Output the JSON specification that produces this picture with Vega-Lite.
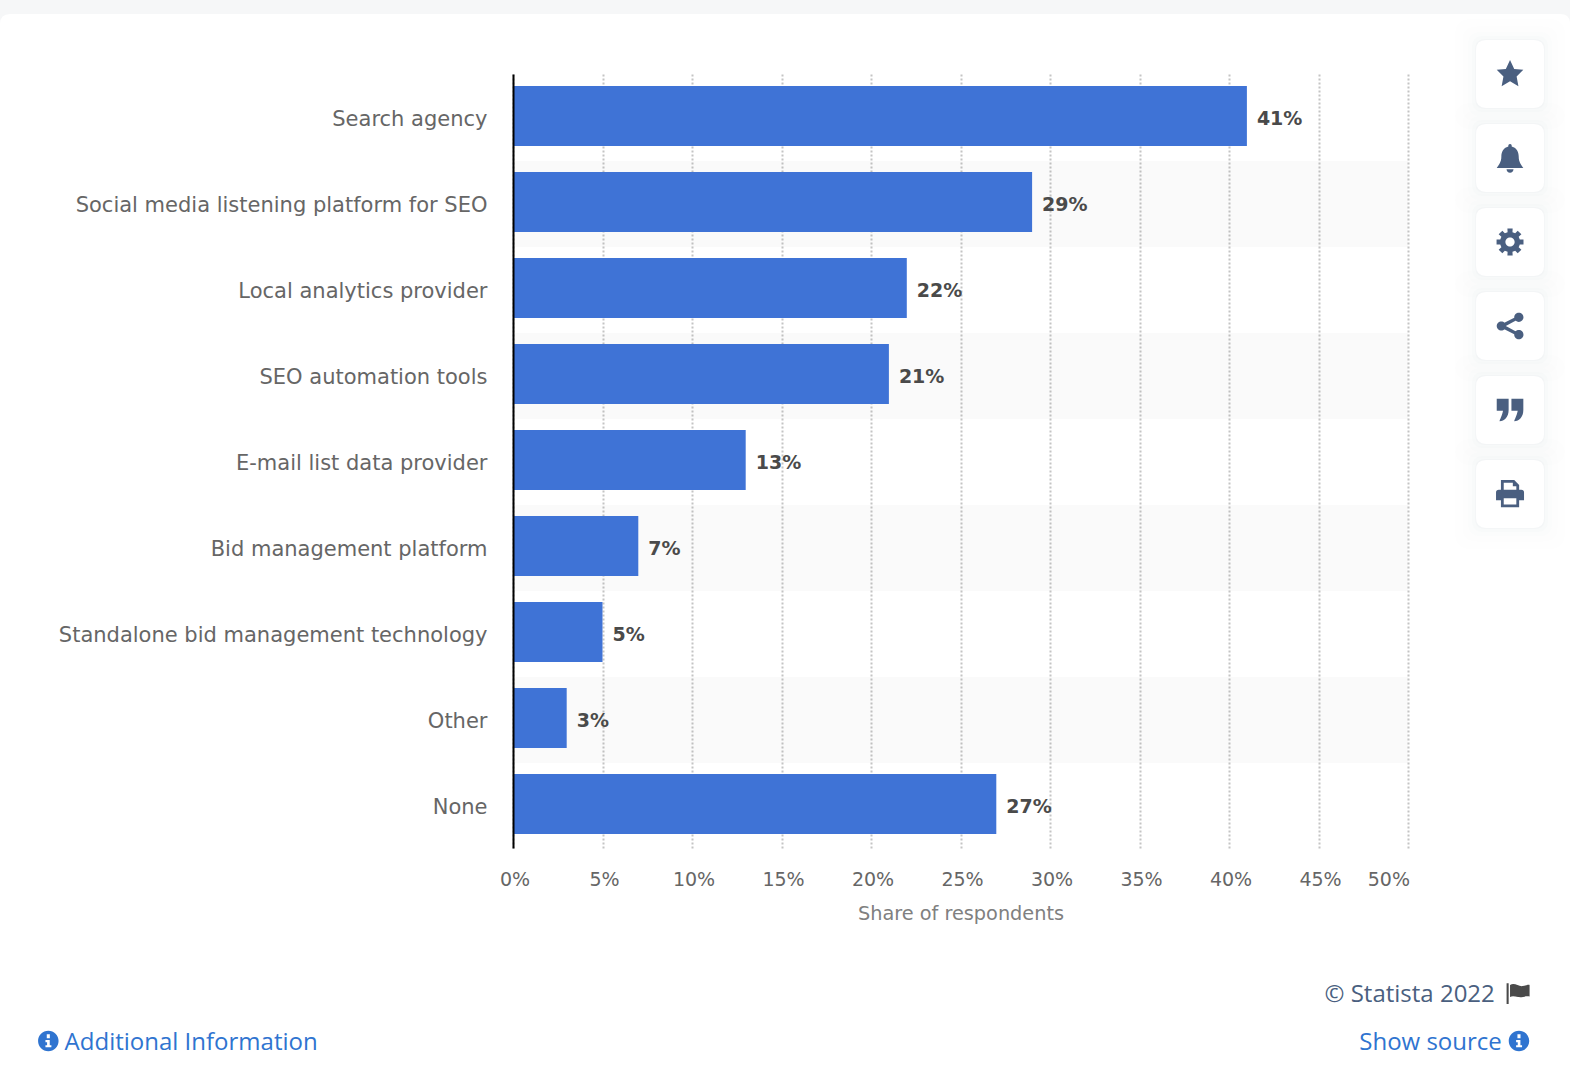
{"$schema":"https://vega.github.io/schema/vega-lite/v6.json","width":895,"height":774,"autosize":{"type":"none"},"padding":{"left":513,"top":74,"right":162,"bottom":236},"background":"#ffffff","config":{"view":{"stroke":null}},"datasets":{"survey":[{"category":"Search agency","share":41,"label":"41%"},{"category":"Social media listening platform for SEO","share":29,"label":"29%"},{"category":"Local analytics provider","share":22,"label":"22%"},{"category":"SEO automation tools","share":21,"label":"21%"},{"category":"E-mail list data provider","share":13,"label":"13%"},{"category":"Bid management platform","share":7,"label":"7%"},{"category":"Standalone bid management technology","share":5,"label":"5%"},{"category":"Other","share":3,"label":"3%"},{"category":"None","share":27,"label":"27%"}],"tools":[{"tool":"star"},{"tool":"bell"},{"tool":"settings"},{"tool":"share"},{"tool":"cite"},{"tool":"print"}]},"resolve":{"scale":{"y":"independent","shape":"independent"}},"layer":[{"data":{"name":"survey"},"encoding":{"y":{"field":"category","type":"nominal","scale":{"domain":["Search agency","Social media listening platform for SEO","Local analytics provider","SEO automation tools","E-mail list data provider","Bid management platform","Standalone bid management technology","Other","None"],"paddingInner":0,"paddingOuter":0},"axis":{"title":null,"domainColor":"#000000","domainWidth":2,"ticks":false,"labelPadding":26,"labelOffset":3,"labelFont":"DejaVu Sans","labelFontSize":21,"labelColor":"#666666","labelLimit":600,"zindex":1}}},"layer":[{"transform":[{"filter":{"field":"category","oneOf":["Social media listening platform for SEO","SEO automation tools","Bid management platform","Other"]}}],"mark":{"type":"bar","height":86,"yOffset":1,"fill":"#000000","opacity":0.02},"encoding":{"x":{"datum":0,"type":"quantitative","scale":{"domain":[0,50],"nice":false},"axis":{"title":"Share of respondents"}},"x2":{"datum":50}}},{"mark":{"type":"bar","height":60,"yOffset":-1,"fill":"#3f73d6"},"encoding":{"x":{"field":"share","type":"quantitative","scale":{"domain":[0,50],"nice":false},"axis":{"title":"Share of respondents","titleFont":"DejaVu Sans","titleFontSize":19.3,"titleFontWeight":"normal","titleColor":"#808080","titleBaseline":"middle","titleY":65,"values":[0,5,10,15,20,25,30,35,40,45,50],"labelExpr":"datum.value + '%'","labelFont":"DejaVu Sans","labelFontSize":19,"labelColor":"#666666","labelPadding":22,"labelOffset":1.5,"labelAlign":{"condition":{"test":"datum.value === 50","value":"right"},"value":"center"},"domain":false,"ticks":false,"grid":true,"gridColor":"#c4c4c4","gridWidth":2,"gridDash":[2,2],"labelFlush":false,"labelOverlap":false}}}},{"mark":{"type":"text","align":"left","baseline":"middle","dx":10,"dy":2,"font":"DejaVu Sans","fontSize":19,"fontWeight":"bold","fill":"#4a4a4a"},"encoding":{"x":{"field":"share","type":"quantitative","scale":{"domain":[0,50],"nice":false},"axis":{"title":"Share of respondents"}},"text":{"field":"label"}}}]},{"data":{"values":[{"part":"page edge"}]},"mark":{"type":"point","filled":true,"opacity":1,"fill":"#f6f7f8","size":2464900,"shape":"M-1,0 H1 V0.0306 Q1,0.01783 0.98726,0.01783 H-0.98726 Q-1,0.01783 -1,0.0306 Z"},"encoding":{"x":{"datum":15.2,"type":"quantitative","scale":{"domain":[0,50],"nice":false},"axis":{"title":"Share of respondents"}},"y":{"field":"part","type":"nominal","scale":{"type":"point","range":[-74,-74],"padding":0},"axis":null}}},{"data":{"name":"tools"},"encoding":{"x":{"datum":55.7,"type":"quantitative","scale":{"domain":[0,50],"nice":false},"axis":{"title":"Share of respondents"}},"y":{"field":"tool","type":"nominal","scale":{"type":"point","domain":["star","bell","settings","share","cite","print"],"range":[0,420],"padding":0},"axis":null}},"layer":[{"mark":{"type":"point","filled":true,"fill":"#7a8aa8","opacity":0.006,"size":12100,"shape":"M-0.7,-1 H0.7 Q1,-1 1,-0.7 V0.7 Q1,1 0.7,1 H-0.7 Q-1,1 -1,0.7 V-0.7 Q-1,-1 -0.7,-1 Z"}},{"mark":{"type":"point","filled":true,"fill":"#7a8aa8","opacity":0.008,"size":9025,"shape":"M-0.7,-1 H0.7 Q1,-1 1,-0.7 V0.7 Q1,1 0.7,1 H-0.7 Q-1,1 -1,0.7 V-0.7 Q-1,-1 -0.7,-1 Z"}},{"mark":{"type":"point","filled":true,"fill":"#7a8aa8","opacity":0.012,"size":7056,"shape":"M-0.7,-1 H0.7 Q1,-1 1,-0.7 V0.7 Q1,1 0.7,1 H-0.7 Q-1,1 -1,0.7 V-0.7 Q-1,-1 -0.7,-1 Z"}},{"mark":{"type":"point","filled":true,"fill":"#7a8aa8","opacity":0.02,"size":5776,"shape":"M-0.7,-1 H0.7 Q1,-1 1,-0.7 V0.7 Q1,1 0.7,1 H-0.7 Q-1,1 -1,0.7 V-0.7 Q-1,-1 -0.7,-1 Z"}},{"mark":{"type":"point","filled":true,"fill":"#7a8aa8","opacity":0.03,"size":4900,"shape":"M-0.7,-1 H0.7 Q1,-1 1,-0.7 V0.7 Q1,1 0.7,1 H-0.7 Q-1,1 -1,0.7 V-0.7 Q-1,-1 -0.7,-1 Z"}},{"mark":{"type":"point","filled":true,"fill":"#ffffff","opacity":1,"size":4624,"shape":"M-0.7,-1 H0.7 Q1,-1 1,-0.7 V0.7 Q1,1 0.7,1 H-0.7 Q-1,1 -1,0.7 V-0.7 Q-1,-1 -0.7,-1 Z"}},{"mark":{"type":"point","filled":true,"fill":"#4a5f80","opacity":1,"size":784},"encoding":{"shape":{"field":"tool","type":"nominal","legend":null,"scale":{"domain":["star","bell","settings","share","cite","print"],"range":["M0,-1 L0.3,-0.36 L0.95,-0.3 L0.47,0.17 L0.6,0.88 L0,0.52 L-0.6,0.88 L-0.47,0.17 L-0.95,-0.3 L-0.3,-0.36 Z","M0,-1 C0.1,-1 0.14,-0.9 0.12,-0.82 C0.5,-0.72 0.62,-0.4 0.62,-0.1 C0.62,0.3 0.78,0.45 0.95,0.72 L-0.95,0.72 C-0.78,0.45 -0.62,0.3 -0.62,-0.1 C-0.62,-0.4 -0.5,-0.72 -0.12,-0.82 C-0.14,-0.9 -0.1,-1 0,-1 Z M-0.25,0.8 A0.25,0.25 0 0 0 0.25,0.8 Z","M-0.174,-0.699 L-0.187,-0.962 L0.187,-0.962 L0.174,-0.699 L0.371,-0.617 L0.548,-0.812 L0.812,-0.548 L0.617,-0.371 L0.699,-0.174 L0.962,-0.187 L0.962,0.187 L0.699,0.174 L0.617,0.371 L0.812,0.548 L0.548,0.812 L0.371,0.617 L0.174,0.699 L0.187,0.962 L-0.187,0.962 L-0.174,0.699 L-0.371,0.617 L-0.548,0.812 L-0.812,0.548 L-0.617,0.371 L-0.699,0.174 L-0.962,0.187 L-0.962,-0.187 L-0.699,-0.174 L-0.617,-0.371 L-0.812,-0.548 L-0.548,-0.812 L-0.371,-0.617 Z M0.33,0 A0.33,0.33 0 1 0 -0.33,0 A0.33,0.33 0 1 0 0.33,0 Z","M0.62,-0.75 L0.62,-0.5 L-0.3,0 L0.62,0.5 L0.62,0.75 L-0.62,0.12 L-0.62,-0.12 Z M0.3,-0.62 A0.33,0.33 0 1 1 0.96,-0.62 A0.33,0.33 0 1 1 0.3,-0.62 Z M-0.95,0 A0.33,0.33 0 1 1 -0.29,0 A0.33,0.33 0 1 1 -0.95,0 Z M0.3,0.62 A0.33,0.33 0 1 1 0.96,0.62 A0.33,0.33 0 1 1 0.3,0.62 Z","M-0.95,-0.8 H-0.1 V0 C-0.1,0.5 -0.4,0.8 -0.75,0.8 C-0.72,0.65 -0.6,0.5 -0.5,0.05 H-0.95 Z M0.1,-0.8 H0.95 V0 C0.95,0.5 0.65,0.8 0.3,0.8 C0.33,0.65 0.45,0.5 0.55,0.05 H0.1 Z","M-1,-0.1 Q-1,-0.3 -0.8,-0.3 H-0.65 V-1 H0.3 L0.65,-0.65 V-0.3 H0.8 Q1,-0.3 1,-0.1 V0.45 H0.65 V0.95 H-0.65 V0.45 H-1 Z M-0.45,-0.8 V-0.3 H0.45 V-0.55 H0.2 V-0.8 Z M-0.45,0.3 V0.75 H0.45 V0.3 Z"]}}}}]},{"data":{"values":[{"row":"attribution","label":"© Statista 2022"},{"row":"links","label":"Show source"}]},"encoding":{"y":{"field":"row","type":"nominal","scale":{"type":"point","domain":["attribution","links"],"range":[919,967],"padding":0},"axis":null}},"layer":[{"transform":[{"filter":"datum.row === 'attribution'"}],"mark":{"type":"text","align":"right","baseline":"middle","dy":2,"font":"Open Sans","fontSize":24,"fill":"#4a5f80"},"encoding":{"x":{"datum":54.85,"type":"quantitative","scale":{"domain":[0,50],"nice":false},"axis":{"title":"Share of respondents"}},"text":{"field":"label"}}},{"transform":[{"filter":"datum.row === 'links'"}],"mark":{"type":"text","align":"right","baseline":"middle","dy":2,"font":"Open Sans","fontSize":24,"fill":"#2f74d0"},"encoding":{"x":{"datum":55.24,"type":"quantitative","scale":{"domain":[0,50],"nice":false},"axis":{"title":"Share of respondents"}},"text":{"field":"label"}}},{"transform":[{"filter":"datum.row === 'links'"}],"mark":{"type":"text","align":"left","baseline":"middle","dy":2,"font":"Open Sans","fontSize":24,"fill":"#2f74d0"},"encoding":{"x":{"datum":-25.05,"type":"quantitative","scale":{"domain":[0,50],"nice":false},"axis":{"title":"Share of respondents"}},"text":{"value":"Additional Information"}}},{"transform":[{"filter":"datum.row === 'links'"}],"mark":{"type":"point","filled":true,"fill":"#2f74d0","opacity":1,"size":420,"shape":"M-1,0 A1,1 0 1 1 1,0 A1,1 0 1 1 -1,0 Z M-0.28,-0.1 V0.12 H-0.12 V0.42 H-0.28 V0.62 H0.3 V0.42 H0.14 V-0.1 Z M-0.15,-0.65 V-0.28 H0.15 V-0.65 Z"},"encoding":{"x":{"datum":56.2,"type":"quantitative","scale":{"domain":[0,50],"nice":false},"axis":{"title":"Share of respondents"}}}},{"transform":[{"filter":"datum.row === 'links'"}],"mark":{"type":"point","filled":true,"fill":"#2f74d0","opacity":1,"size":420,"shape":"M-1,0 A1,1 0 1 1 1,0 A1,1 0 1 1 -1,0 Z M-0.28,-0.1 V0.12 H-0.12 V0.42 H-0.28 V0.62 H0.3 V0.42 H0.14 V-0.1 Z M-0.15,-0.65 V-0.28 H0.15 V-0.65 Z"},"encoding":{"x":{"datum":-25.96,"type":"quantitative","scale":{"domain":[0,50],"nice":false},"axis":{"title":"Share of respondents"}}}},{"transform":[{"filter":"datum.row === 'attribution'"}],"mark":{"type":"point","filled":true,"fill":"#4a4a4a","opacity":1,"size":529,"shape":"M-1,-0.85 H-0.82 V0.95 H-1 Z M-0.7,-0.7 C-0.3,-0.95 0,-0.55 0.4,-0.6 C0.6,-0.62 0.85,-0.75 1,-0.7 V0.3 C0.6,0.25 0.4,0.4 0,0.35 C-0.3,0.3 -0.5,0.25 -0.7,0.35 Z"},"encoding":{"x":{"datum":56.15,"type":"quantitative","scale":{"domain":[0,50],"nice":false},"axis":{"title":"Share of respondents"}}}}]}]}
